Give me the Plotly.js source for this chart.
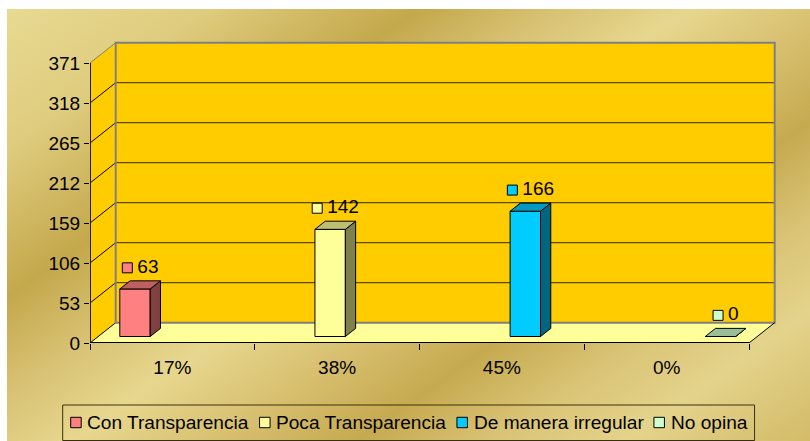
<!DOCTYPE html>
<html><head><meta charset="utf-8">
<script src="https://cdn.plot.ly/plotly-3.0.1.min.js"></script>
<style>
html,body{margin:0;padding:0;background:#fff;width:810px;height:441px;overflow:hidden;}
#bg{position:absolute;left:7px;top:9px;width:803px;height:432px;
background:linear-gradient(145deg,#E8DA92 0%,#DFCC7E 14%,#C4A84C 29%,#D8C274 39%,#E7D78E 48%,#D8C070 58%,#C6AA50 68%,#DAC476 78%,#E4D38B 87%,#D3BB68 100%);}
#chart{position:absolute;left:0;top:0;width:810px;height:441px;}
</style></head><body><div id="bg"></div><div id="chart"></div>
<script>
// ---- data ----
const categories = ['17%', '38%', '45%', '0%'];
const seriesNames = ['Con Transparencia', 'Poca Transparencia', 'De manera irregular', 'No opina'];
const seriesValues = [63, 142, 166, 0];   // series i has its value in category i
const yTickVals = [0, 53, 106, 159, 212, 265, 318, 371];
const frontColors = ['#FF8080', '#FFFF99', '#00CCFF', '#CCFFCC'];
const topColors   = ['#BF6060', '#BFBF73', '#0099BF', '#99BF99'];
const sideColors  = ['#804040', '#80804D', '#006680', '#668066'];

// ---- geometry (styling) ----
const W = 810, H = 441;
const CATPX = 164.75, KPX = 280 / 371;
const ML = 90, MR = 30, MT = 38, MB = 98;
const PW = W - ML - MR, PH = H - MT - MB;
const XMIN = -0.5, XMAX = XMIN + PW / CATPX;
const YMAX = PH / KPX;
const DXPX = 25.7, DYPX = 20.3;
const DXU = DXPX / CATPX, DYU = DYPX / KPX;
const BARPX = 30.4, BARW = BARPX / CATPX, F0 = 0.32, F1 = 0.72;
const b0 = F0 * DYU, b1 = F1 * DYU, ddx = (F1 - F0) * DXU;
const nCat = categories.length;
const yTop = yTickVals[yTickVals.length - 1];
const FONT = 'Liberation Sans, Arial, sans-serif';
const FS = 19;
const LFS = 19.1;

const ctx = document.createElement('canvas').getContext('2d');
const tw = (t, fs) => { ctx.font = fs + 'px "Liberation Sans"'; return ctx.measureText(t).width; };

const px2x = px => (px - ML) / PW;         // paper x
const py2y = py => (H - MB - py) / PH;     // paper y

// ---- traces ----
const traces = [];
seriesValues.forEach((v, s) => {
  const xc = s + ((s - (nCat - 1) / 2) * BARPX + F0 * DXPX) / CATPX;
  const xl = xc - BARW / 2, xr = xc + BARW / 2;
  traces.push({type: 'bar', x: [xc], y: [v], base: [b0], width: [BARW],
    marker: {color: frontColors[s], line: {color: '#000', width: 1}},
    showlegend: false, hoverinfo: 'skip'});
  traces.push({type: 'scatter', mode: 'lines',
    x: [xr, xr, xr + ddx, xr + ddx, xr], y: [b0, v + b0, v + b1, b1, b0],
    fill: 'toself', fillcolor: sideColors[s], line: {color: '#000', width: 1},
    showlegend: false, hoverinfo: 'skip'});
  traces.push({type: 'scatter', mode: 'lines',
    x: [xl, xr, xr + ddx, xl + ddx, xl], y: [v + b0, v + b0, v + b1, v + b1, v + b0],
    fill: 'toself', fillcolor: topColors[s], line: {color: '#000', width: 1},
    showlegend: false, hoverinfo: 'skip'});
  // data label: square + number, centred over the bar
  const txt = String(v);
  const gw = 15.5 + tw(txt, FS);
  const centerPx = xc * CATPX + (ddx * CATPX) / 2;
  const mPx = centerPx - gw / 2 + 5.5;
  const ly = v + b1 + 13 / KPX;
  traces.push({type: 'scatter', mode: 'markers', x: [mPx / CATPX], y: [ly],
    marker: {symbol: 'square', size: 10, color: frontColors[s], line: {color: '#000', width: 1}},
    showlegend: false, hoverinfo: 'skip', cliponaxis: false});
  traces.push({type: 'scatter', mode: 'text', x: [(mPx + 10) / CATPX], y: [ly],
    text: [txt], textposition: 'middle right', textfont: {family: FONT, size: FS, color: '#000'},
    showlegend: false, hoverinfo: 'skip', cliponaxis: false});
});

// ---- frame shapes (walls, floor, grid) ----
const shapes = [];
const x0 = XMIN, x1 = XMIN + nCat;
const P = pts => 'M ' + pts.map(p => p[0] + ',' + p[1]).join(' L ') + ' Z';
shapes.push({type: 'path', layer: 'below', xref: 'x', yref: 'y',
  path: P([[x0 + DXU, DYU], [x1 + DXU, DYU], [x1 + DXU, yTop + DYU], [x0 + DXU, yTop + DYU]]),
  fillcolor: '#FFCC00', line: {width: 0}});
shapes.push({type: 'path', layer: 'below', xref: 'x', yref: 'y',
  path: P([[x0, 0], [x0, yTop], [x0 + DXU, yTop + DYU], [x0 + DXU, DYU]]),
  fillcolor: '#FFCC00', line: {width: 0}});
shapes.push({type: 'path', layer: 'below', xref: 'x', yref: 'y',
  path: P([[x0, 0], [x1, 0], [x1 + DXU, DYU], [x0 + DXU, DYU]]),
  fillcolor: '#FFFF99', line: {width: 0}});
yTickVals.forEach((t, i) => {
  if (i > 0 && i < yTickVals.length - 1) {
    shapes.push({type: 'line', layer: 'below', xref: 'x', yref: 'y',
      x0: x0 + DXU, x1: x1 + DXU, y0: t + DYU, y1: t + DYU, line: {color: '#5C4A00', width: 1.3}});
  }
  shapes.push({type: 'line', layer: 'below', xref: 'x', yref: 'y',
    x0: x0, x1: x0 + DXU, y0: t, y1: t + DYU,
    line: {color: i === yTickVals.length - 1 ? '#808080' : '#000', width: 1}});
});
shapes.push({type: 'path', layer: 'below', xref: 'x', yref: 'y',
  path: P([[x0 + DXU, DYU], [x1 + DXU, DYU], [x1 + DXU, yTop + DYU], [x0 + DXU, yTop + DYU]]),
  fillcolor: 'rgba(0,0,0,0)', line: {color: '#808080', width: 2}});
shapes.push({type: 'line', layer: 'above', xref: 'x', yref: 'y',
  x0: x0, x1: x0, y0: 0, y1: yTop, line: {color: '#222', width: 2}});
shapes.push({type: 'line', layer: 'above', xref: 'x', yref: 'y',
  x0: x0, x1: x1, y0: 0, y1: 0, line: {color: '#000', width: 2}});
shapes.push({type: 'line', layer: 'below', xref: 'x', yref: 'y',
  x0: x1, x1: x1 + DXU, y0: 0, y1: DYU, line: {color: '#000', width: 1}});

// ---- manual legend ----
const annotations = [];
const legTop = 405, legBot = 440.5, legMid = 422.5;
let lx = 70.7;
const legItems = [];
seriesNames.forEach((name, s) => {
  legItems.push({s, mx: lx, tx: lx + 16.6, name});
  lx = lx + 16.6 + tw(name, LFS) + 10.6;
});
shapes.push({type: 'rect', xref: 'paper', yref: 'paper',
  x0: px2x(62.7), x1: px2x(lx - 3), y0: py2y(legBot), y1: py2y(legTop),
  fillcolor: 'rgba(0,0,0,0)', line: {color: '#3A3010', width: 1}});
legItems.forEach(it => {
  shapes.push({type: 'rect', xref: 'paper', yref: 'paper',
    x0: px2x(it.mx), x1: px2x(it.mx + 10.5), y0: py2y(legMid + 5.2), y1: py2y(legMid - 5.2),
    fillcolor: frontColors[it.s], line: {color: '#000', width: 1}});
  annotations.push({xref: 'paper', yref: 'paper', x: px2x(it.tx), y: py2y(legMid),
    xanchor: 'left', yanchor: 'middle', showarrow: false, text: it.name,
    borderpad: 0, borderwidth: 0, font: {family: FONT, size: LFS, color: '#000'}});
});

const layout = {
  width: W, height: H,
  margin: {l: ML, r: MR, t: MT, b: MB, pad: 0},
  paper_bgcolor: 'rgba(0,0,0,0)', plot_bgcolor: 'rgba(0,0,0,0)',
  barmode: 'overlay', showlegend: false,
  font: {family: FONT, size: FS, color: '#000'},
  xaxis: {range: [XMIN, XMAX], tickvals: categories.map((c, i) => i), ticktext: categories,
    ticks: 'outside', ticklen: 7, tickcolor: 'rgba(0,0,0,0)', showline: false, showgrid: false,
    zeroline: false, tickfont: {family: FONT, size: FS, color: '#000'}, fixedrange: true},
  xaxis2: {overlaying: 'x', anchor: 'y', side: 'bottom', range: [XMIN, XMAX],
    tickvals: categories.map((c, i) => i - 0.5).concat([nCat - 0.5]),
    ticks: 'outside', ticklen: 6, tickcolor: '#000', tickwidth: 1, showticklabels: false,
    showline: false, showgrid: false, zeroline: false},
  yaxis: {range: [0, YMAX], tickvals: yTickVals, ticktext: yTickVals.map(String),
    ticks: 'outside', ticklen: 5, tickcolor: '#000', showline: false, showgrid: false,
    zeroline: false, tickfont: {family: FONT, size: FS, color: '#000'}, fixedrange: true},
  shapes, annotations
};
traces.push({type: 'scatter', x: [XMIN], y: [0], xaxis: 'x2', yaxis: 'y', mode: 'markers',
  marker: {opacity: 0}, showlegend: false, hoverinfo: 'skip'});

Plotly.newPlot('chart', traces, layout, {displayModeBar: false, staticPlot: true});
</script>
</body></html>
